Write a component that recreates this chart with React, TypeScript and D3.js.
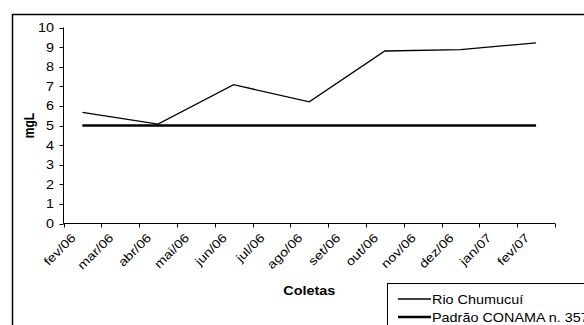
import React from "react";
import * as d3 from "d3";

const months = ["fev/06","mar/06","abr/06","mai/06","jun/06","jul/06","ago/06","set/06","out/06","nov/06","dez/06","jan/07","fev/07"];
const rioValues: (number | null)[] = [5.67, null, 5.07, null, 7.08, null, 6.21, null, 8.8, null, 8.87, null, 9.22];
const conamaValues: number[] = [5, 5, 5, 5, 5, 5, 5, 5, 5, 5, 5, 5, 5];
const yTicks = [0, 1, 2, 3, 4, 5, 6, 7, 8, 9, 10];
const seriesNames = ["Rio Chumucuí", "Padrão CONAMA n. 357"];

const W = 584, H = 325;
const left = 63.5, right = 555, top = 27.5, bottom = 223.5;
const SX = 1.2;
const FONT = "'Liberation Sans', Arial, sans-serif";

export default function App() {
  const x = d3.scaleBand<string>().domain(months).range([left, right]).paddingInner(0).paddingOuter(0);
  const y = d3.scaleLinear().domain([0, 10]).range([bottom, top]);
  const cx = (m: string) => (x(m) as number) + x.bandwidth() / 2;

  const rioPts = months.map((m, i) => ({ m, v: rioValues[i] })).filter(d => d.v !== null) as { m: string; v: number }[];
  const line = d3.line<{ m: string; v: number }>().x(d => cx(d.m)).y(d => y(d.v));
  const conamaPts = months.map((m, i) => ({ m, v: conamaValues[i] }));

  const boundaries = months.map(m => x(m) as number).concat([right]);

  return (
    <svg width={W} height={H} style={{ position: "absolute", left: 0, top: 0, background: "#fff" }} fontFamily={FONT}>
      <rect x={0} y={0} width={W} height={H} fill="#fff" />
      <rect x={12.5} y={14.5} width={700} height={500} fill="none" stroke="#000" strokeWidth={1.5} />

      {/* y axis */}
      <line x1={left} x2={left} y1={top} y2={bottom} stroke="#000" strokeWidth={1} />
      {yTicks.map(t => (
        <g key={t}>
          <line x1={left - 4} x2={left} y1={Math.round(y(t)) + 0.5} y2={Math.round(y(t)) + 0.5} stroke="#000" />
          <text transform={`translate(${54},${y(t) + 4.5}) scale(${SX},1)`} textAnchor="end" fontSize={12} fill="#000">{t}</text>
        </g>
      ))}

      {/* x axis */}
      <line x1={left} x2={right} y1={bottom} y2={bottom} stroke="#000" strokeWidth={1} />
      {boundaries.map((b, i) => (
        <line key={i} x1={Math.round(b) + 0.5} x2={Math.round(b) + 0.5} y1={bottom} y2={bottom + 4} stroke="#000" />
      ))}
      {months.map(m => (
        <text key={m} transform={`translate(${cx(m) - 6},${bottom + 15}) rotate(-45) scale(${SX},1)`} textAnchor="end" fontSize={12} fill="#000">{m}</text>
      ))}

      {/* titles */}
      <text transform={`translate(${34},${(top + bottom) / 2}) scale(${SX},1) rotate(-90)`} textAnchor="middle" fontSize={12} fontWeight="bold">mgL</text>
      <text transform={`translate(${(left + right) / 2},${295}) scale(${SX},1)`} textAnchor="middle" fontSize={12} fontWeight="bold">Coletas</text>

      {/* series */}
      <path d={line(conamaPts) || ""} fill="none" stroke="#000" strokeWidth={2.6} />
      <path d={line(rioPts) || ""} fill="none" stroke="#000" strokeWidth={1.3} />

      {/* legend */}
      <rect x={387.5} y={283.5} width={300} height={100} fill="#fff" stroke="#000" strokeWidth={1} />
      <line x1={398} x2={431} y1={299} y2={299} stroke="#000" strokeWidth={1.3} />
      <line x1={398} x2={431} y1={317} y2={317} stroke="#000" strokeWidth={2.6} />
      <text transform={`translate(432,${303.5}) scale(${SX},1)`} fontSize={12}>{seriesNames[0]}</text>
      <text transform={`translate(432,${321.5}) scale(${SX},1)`} fontSize={12}>{seriesNames[1]}</text>
    </svg>
  );
}
